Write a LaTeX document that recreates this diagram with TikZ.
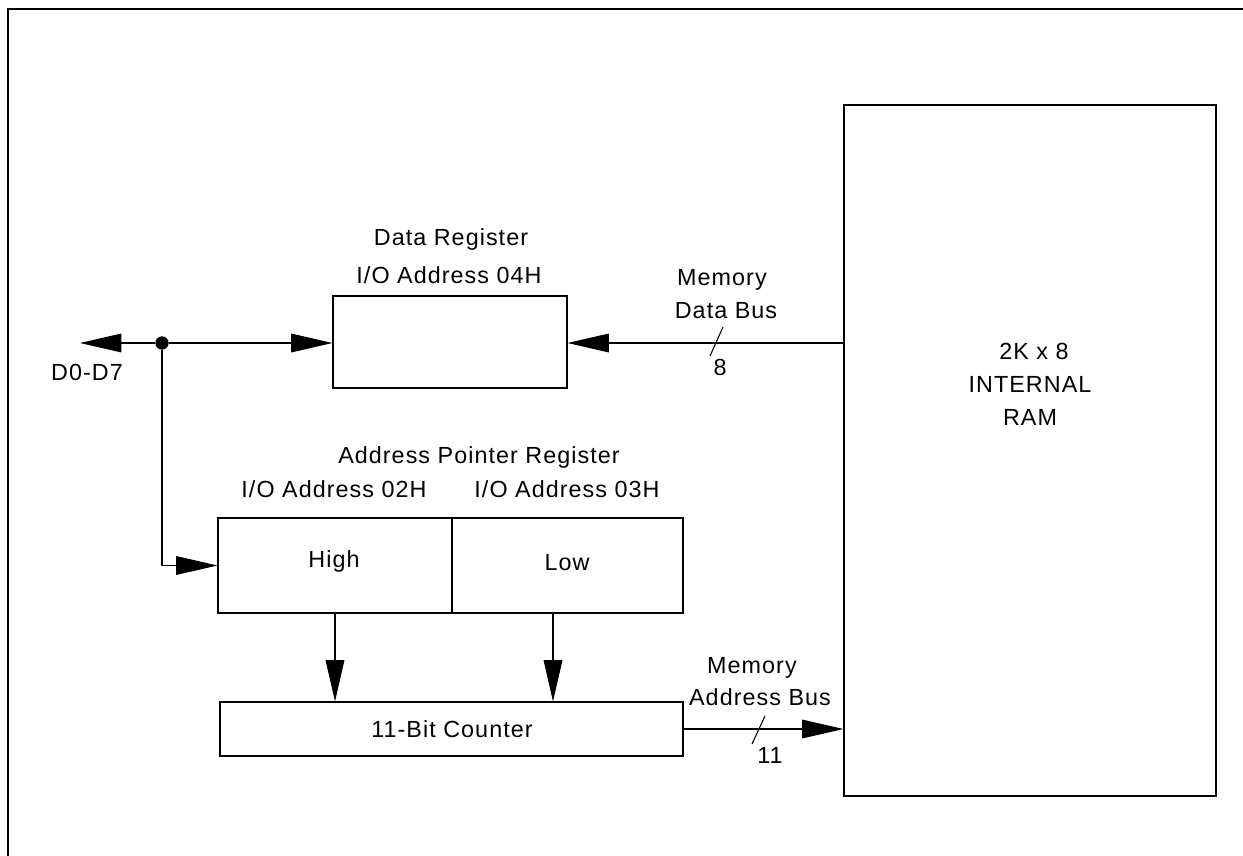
\documentclass[tikz,border=0pt]{standalone}
\usepackage{fontspec}
\setmainfont{Liberation Sans}[LetterSpace=4.5]
\usetikzlibrary{arrows.meta}
\tikzset{
  box/.style={draw, line width=0.8pt, inner sep=0pt},
  lbl/.style={inner sep=0pt, anchor=base},
  sig/.style={line width=0.8pt, ->},
}

\begin{document}
\begin{tikzpicture}[line cap=butt,line join=miter,>={Triangle[length=31pt,width=14pt]},x=0.75pt,y=-0.75pt,
  every node/.style={font=\fontsize{17.5}{21}\selectfont}]
\useasboundingbox (0,0) rectangle (1243,856);
\clip (0,0) rectangle (1243,856);
%\draw[help lines] (0,0) grid[step=50] (1243,856);
\draw [line width=1.9pt] (8,9) rectangle (1300,900);
% boxes
\node[box, minimum width=279pt, minimum height=518.25pt] (ram) at (1030,450.5) {};
\node[box, minimum width=175.5pt, minimum height=69pt] (data) at (450,342) {};
\node[box, minimum width=175.5pt, minimum height=71.25pt] (high) at (335,565.5) {};
\node[box, minimum width=173.25pt, minimum height=71.25pt] (low) at (567.5,565.5) {};
\node[box, minimum width=347.25pt, minimum height=40.5pt] (ctr) at (451.5,729) {};
% texts
\node[lbl] (ram1) at (1034,359) {2K x 8};
\node[lbl] (ram2) at (1030,392) {INTERNAL};
\node[lbl] (ram3) at (1030,425) {RAM};
\node[lbl] (hightxt) at (334,567) {High};
\node[lbl] (lowtxt) at (567,570) {Low};
\node[lbl] (ctrtxt) at (452,737) {11-Bit Counter};
\node[lbl] (dtitle) at (451,245) {Data Register};
\node[lbl] (daddr) at (449,283) {I/O Address 04H};
\node[lbl] (atitle) at (479,463) {Address Pointer Register};
\node[lbl] (haddr) at (334,497) {I/O Address 02H};
\node[lbl] (laddr) at (567,497) {I/O Address 03H};
% data bus side
\node[circle, fill, inner sep=0pt, minimum size=10pt] (jn) at (162,343) {};
\coordinate (dpin) at (80,343);
\node[lbl] (dname) at (87,380) {D0-D7};
\draw[sig] (jn) -- (dpin);
\draw[sig] (jn) -- (jn -| data.west);
\draw[sig] (jn) |- (high.west);
\draw[sig] (ram.west |- jn) -- (jn -| data.east);
\draw[line width=0.8pt] (723,327) -- (710,356);
\node[lbl] (dbus1) at (722,285) {Memory};
\node[lbl] (dbus2) at (726,318) {Data Bus};
\node[lbl] (dwidth) at (720,375) {8};
% address side
\coordinate (lowdrop) at (553,613);
\draw[sig] (high.south) -- (high.south |- ctr.north);
\draw[sig] (lowdrop) -- (lowdrop |- ctr.north);
\draw[sig] (ctr.east) -- (ctr.east -| ram.west);
\draw[line width=0.8pt] (765,716) -- (752,744);
\node[lbl] (abus1) at (752,673) {Memory};
\node[lbl] (abus2) at (760,705) {Address Bus};
\node[lbl] (awidth) at (770,763) {11};
\end{tikzpicture}
\end{document}
